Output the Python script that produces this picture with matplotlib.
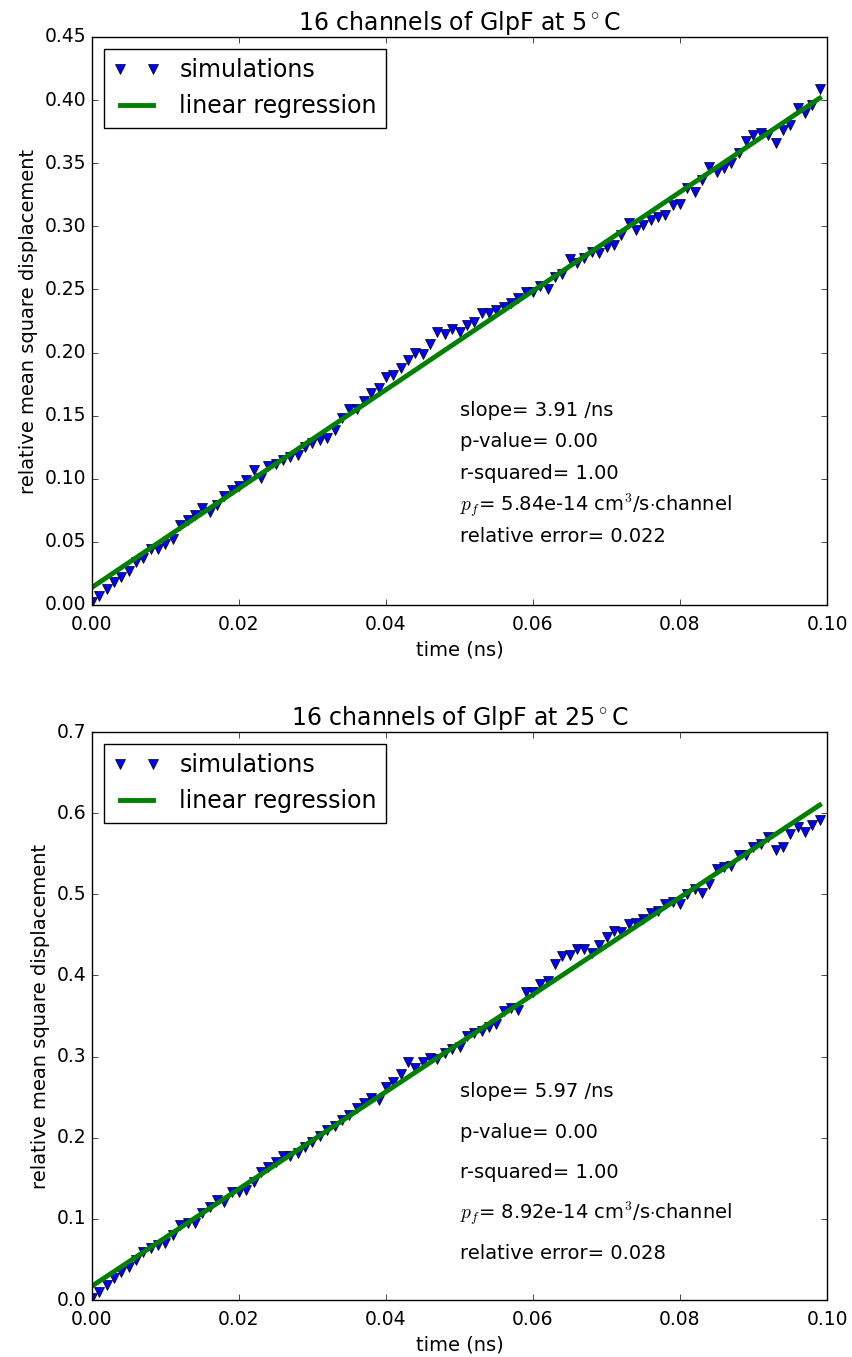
import numpy as np
import matplotlib
matplotlib.use("Agg")
import matplotlib.pyplot as plt

plt.style.use("classic")
plt.rcParams["font.family"] = ["DejaVu Sans"]
plt.rcParams["mathtext.fontset"] = "cm"

# sampling times (ns)
time_ns = np.arange(100) * 0.001

# relative mean square displacement, 5 C
msd_5C = [
    0.002, 0.007, 0.013, 0.018, 0.022, 0.027, 0.034, 0.037, 0.044, 0.044,
    0.048, 0.052, 0.063, 0.067, 0.071, 0.077, 0.074, 0.079, 0.086, 0.091,
    0.094, 0.099, 0.107, 0.101, 0.110, 0.112, 0.115, 0.117, 0.119, 0.125,
    0.128, 0.131, 0.132, 0.139, 0.148, 0.155, 0.155, 0.162, 0.168, 0.172,
    0.181, 0.182, 0.188, 0.194, 0.200, 0.199, 0.207, 0.216, 0.215, 0.219,
    0.216, 0.222, 0.224, 0.231, 0.231, 0.234, 0.236, 0.239, 0.243, 0.248,
    0.248, 0.253, 0.250, 0.260, 0.262, 0.274, 0.271, 0.275, 0.280, 0.279,
    0.284, 0.285, 0.293, 0.303, 0.297, 0.301, 0.305, 0.307, 0.309, 0.317,
    0.318, 0.330, 0.327, 0.337, 0.347, 0.343, 0.346, 0.350, 0.358, 0.368,
    0.372, 0.374, 0.372, 0.366, 0.376, 0.380, 0.394, 0.390, 0.396, 0.409,
]

# relative mean square displacement, 25 C
msd_25C = [
    0.003, 0.010, 0.018, 0.027, 0.035, 0.041, 0.049, 0.059, 0.064, 0.068,
    0.070, 0.080, 0.093, 0.095, 0.095, 0.107, 0.115, 0.123, 0.121, 0.133,
    0.133, 0.136, 0.146, 0.158, 0.164, 0.170, 0.177, 0.177, 0.181, 0.188,
    0.195, 0.202, 0.209, 0.214, 0.222, 0.228, 0.237, 0.243, 0.249, 0.247,
    0.262, 0.269, 0.278, 0.293, 0.286, 0.293, 0.298, 0.297, 0.304, 0.309,
    0.312, 0.325, 0.329, 0.331, 0.337, 0.340, 0.356, 0.360, 0.358, 0.379,
    0.379, 0.389, 0.393, 0.414, 0.424, 0.425, 0.432, 0.433, 0.428, 0.438,
    0.447, 0.455, 0.453, 0.463, 0.464, 0.469, 0.477, 0.479, 0.488, 0.490,
    0.488, 0.500, 0.506, 0.502, 0.513, 0.531, 0.534, 0.535, 0.548, 0.549,
    0.558, 0.562, 0.570, 0.555, 0.558, 0.574, 0.583, 0.577, 0.585, 0.591,
]

titles = ["16 channels of GlpF at 5$^\\circ$C", "16 channels of GlpF at 25$^\\circ$C"]
stats_5C = ["slope= 3.91 /ns", "p-value= 0.00", "r-squared= 1.00",
            "$p_f$= 5.84e-14 cm$^3$/s$\\cdot$channel", "relative error= 0.022"]
stats_25C = ["slope= 5.97 /ns", "p-value= 0.00", "r-squared= 1.00",
             "$p_f$= 8.92e-14 cm$^3$/s$\\cdot$channel", "relative error= 0.028"]
stats_y_5C = [0.15, 0.125, 0.10, 0.075, 0.05]
stats_y_25C = [0.25, 0.20, 0.15, 0.10, 0.05]
ylims = [0.45, 0.7]

W, H = 853, 1357
fig = plt.figure(figsize=(W / 100, H / 100), dpi=100, facecolor="white")

axes_px = [(92, 37, 827, 605), (92, 732, 827, 1300)]
datasets = [msd_5C, msd_25C]
stats = [stats_5C, stats_25C]
stats_y = [stats_y_5C, stats_y_25C]

for i in range(2):
    l, t, r, b = axes_px[i]
    ax = fig.add_axes([l / W, 1 - b / H, (r - l) / W, (b - t) / H])
    y = np.array(datasets[i])
    ax.plot(time_ns, y, linestyle="none", marker="v", color="b",
            markeredgecolor="k", markeredgewidth=0.5, markersize=7.5,
            label="simulations")
    coef = np.polyfit(time_ns, y, 1)
    ax.plot(time_ns, np.polyval(coef, time_ns), color="g", linewidth=3.5,
            label="linear regression")
    ax.set_xlim(0, 0.1)
    ax.set_ylim(0, ylims[i])
    ax.set_xticks([0.0, 0.02, 0.04, 0.06, 0.08, 0.10])
    ax.tick_params(labelsize=13.5)
    ax.tick_params(axis="x", pad=7)
    ax.set_xlabel("time (ns)", fontsize=14)
    ax.set_ylabel("relative mean square displacement", fontsize=14)
    ax.set_title(titles[i], fontsize=17)
    for txt, yy in zip(stats[i], stats_y[i]):
        ax.text(0.05, yy, txt, fontsize=14)
    leg = ax.legend(loc="upper left", numpoints=2, fontsize=17)
    leg.get_frame().set_linewidth(1.0)

fig.savefig("out.png", dpi=100, facecolor="white")
